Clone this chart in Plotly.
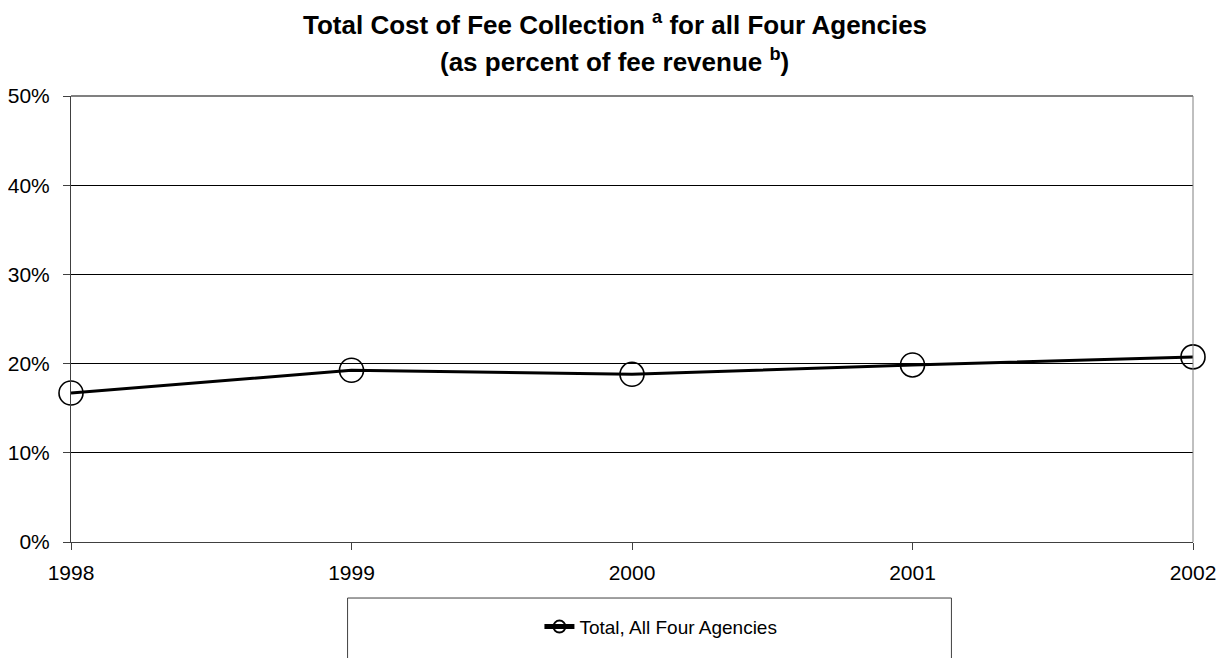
import plotly.graph_objects as go

years = [1998, 1999, 2000, 2001, 2002]
cost_pct = [16.7, 19.25, 18.8, 19.85, 20.75]
series_name = "Total, All Four Agencies"
y_ticks = [0, 10, 20, 30, 40, 50]
y_tick_labels = ["0%", "10%", "20%", "30%", "40%", "50%"]
title_line1 = "Total Cost of Fee Collection <sup>a</sup> for all Four Agencies"
title_line2 = "(as percent of fee revenue <sup>b</sup>)"

FONT = "Liberation Sans, Arial, sans-serif"

fig = go.Figure()
fig.add_trace(go.Scatter(
    x=years, y=cost_pct, name=series_name, mode="lines+markers",
    line=dict(color="black", width=3),
    marker=dict(symbol="circle-open", size=24, color="black", line=dict(width=1.6, color="black")),
    showlegend=True, cliponaxis=False,
))

fig.update_layout(
    width=1221, height=650,
    margin=dict(l=63, r=36, t=88, b=116, autoexpand=False),
    paper_bgcolor="white", plot_bgcolor="white",
    font=dict(family=FONT, color="black", size=20),
    showlegend=True,
    legend=dict(
        x=0.4175, xanchor="left", y=-0.19, yanchor="middle",
        bgcolor="rgba(0,0,0,0)", borderwidth=0,
        font=dict(family=FONT, size=19, color="black"),
        itemsizing="constant",
    ),
    xaxis=dict(
        range=[1998, 2002], tickvals=years, ticktext=[str(y) for y in years],
        showgrid=False, zeroline=False, automargin=False,
        showline=True, linecolor="#404040", linewidth=1,
        ticks="outside", ticklen=7, tickcolor="#404040",
        tickfont=dict(family=FONT, size=21, color="black"),
        ticklabelstandoff=5,
    ),
    yaxis=dict(
        range=[0, 50], tickvals=y_ticks, ticktext=y_tick_labels,
        showgrid=True, gridcolor="black", gridwidth=1,
        zeroline=False, automargin=False,
        showline=True, linecolor="#404040", linewidth=1,
        ticks="outside", ticklen=7, tickcolor="#404040",
        tickfont=dict(family=FONT, size=21, color="black"),
        ticklabelstandoff=9,
    ),
    annotations=[
        dict(text="<b>" + title_line1 + "</b>", xref="paper", yref="paper",
             x=(606.5 - 63) / 1122, y=1.162, xanchor="center", yanchor="middle",
             showarrow=False, font=dict(family=FONT, size=26, color="black")),
        dict(text="<b>" + title_line2 + "</b>", xref="paper", yref="paper",
             x=(606.5 - 63) / 1122, y=1.079, xanchor="center", yanchor="middle",
             showarrow=False, font=dict(family=FONT, size=26, color="black")),
    ],
    shapes=[
        dict(type="line", xref="paper", yref="paper", x0=0, x1=1, y0=1, y1=1,
             line=dict(color="#808080", width=2), layer="above"),
        dict(type="line", xref="paper", yref="paper", x0=1, x1=1, y0=0, y1=1,
             line=dict(color="#808080", width=1), layer="above"),
        dict(type="rect", xref="paper", yref="paper", x0=0.2465, x1=0.7847,
             y0=-0.29, y1=-0.1256, line=dict(color="#404040", width=1),
             fillcolor="rgba(0,0,0,0)", layer="above"),
    ],
)

fig.write_html("out.html")
